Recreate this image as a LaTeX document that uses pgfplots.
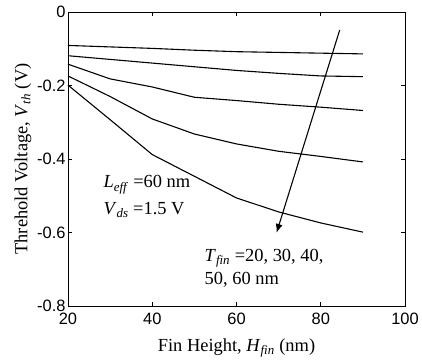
\documentclass[border=0pt]{standalone}
\usepackage{pgfplots}
\pgfplotsset{compat=1.18}
\usetikzlibrary{arrows.meta}
\usepackage{fontspec}
\setmainfont{Liberation Serif}
\newfontfamily\arialfont{Liberation Sans}
\begin{document}
\begin{tikzpicture}
\begin{axis}[
  scale only axis,
  width=337bp, height=294bp,
  xmin=20, xmax=100, ymin=-0.8, ymax=0,
  xtick={20,40,60,80,100},
  ytick={-0.8,-0.6,-0.4,-0.2,0},
  tick align=inside,
  tick style={black, line width=0.6pt},
  major tick length=4pt,
  axis line style={line width=0.8pt},
  /pgf/number format/assume math mode=true,
  /pgf/number format/fixed,
  ticklabel style={font=\arialfont\fontsize{16.5}{16.5}\selectfont},
  xticklabel style={yshift=-4pt},
  yticklabel style={xshift=1pt},
  label style={font=\fontsize{18.5}{18.5}\selectfont},
  xlabel={Fin Height, \textit{H}\textsubscript{\textit{fin}} (nm)},
  ylabel={Threhold Voltage, \textit{V}\textsubscript{\textit{th}} (V)},
  xlabel style={yshift=-7pt},
  ylabel style={yshift=-1pt},
  cycle list={{black, no markers}},
  every axis plot post/.append style={line width=1.1pt},
  clip=false,
]
\addplot coordinates {(20,-0.091) (30,-0.095) (40,-0.099) (50,-0.104) (60,-0.108) (70,-0.110) (80,-0.112) (90,-0.114)};
\addplot coordinates {(20,-0.119) (30,-0.129) (40,-0.139) (50,-0.149) (60,-0.159) (70,-0.167) (80,-0.174) (90,-0.176)};
\addplot coordinates {(20,-0.142) (30,-0.182) (40,-0.204) (50,-0.232) (60,-0.241) (70,-0.251) (80,-0.259) (90,-0.268)};
\addplot coordinates {(20,-0.174) (30,-0.230) (40,-0.291) (50,-0.332) (60,-0.359) (70,-0.379) (80,-0.393) (90,-0.408)};
\addplot coordinates {(20,-0.199) (30,-0.293) (40,-0.388) (50,-0.447) (60,-0.506) (70,-0.544) (80,-0.574) (90,-0.599)};
\draw[-{Latex[length=9pt,width=7pt]}, line width=1.1pt] (axis cs:84.5,-0.049) -- (axis cs:69.5,-0.601);
\node[anchor=west, font=\fontsize{18.5}{18.5}\selectfont, inner sep=0pt] at (axis cs:28.4,-0.470) {\textit{L}\textsubscript{\textit{eff}} =60 nm};
\node[anchor=west, font=\fontsize{18.5}{18.5}\selectfont, inner sep=0pt] at (axis cs:28.4,-0.538) {\textit{V}\textsubscript{\textit{ds}} =1.5 V};
\node[anchor=west, font=\fontsize{18.5}{18.5}\selectfont, inner sep=0pt] at (axis cs:52.4,-0.669) {\textit{T}\textsubscript{\textit{fin}} =20, 30, 40,};
\node[anchor=west, font=\fontsize{18.5}{18.5}\selectfont, inner sep=0pt] at (axis cs:52.4,-0.728) {50, 60 nm};
\end{axis}
\pgfresetboundingbox
\path[use as bounding box] ([xshift=-68bp,yshift=-56bp]current axis.south west) rectangle ([xshift=17bp,yshift=12bp]current axis.north east);
\end{tikzpicture}
\end{document}
